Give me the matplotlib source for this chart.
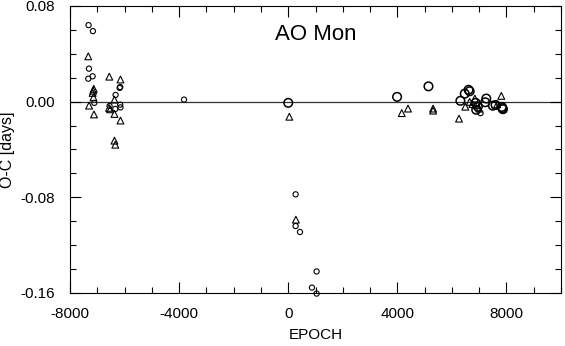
import matplotlib.pyplot as plt
from matplotlib.ticker import MultipleLocator

# small circles
epoch_circ_small = [-7320, -7160, -7305, -7330, -7170, -6160, -6180, -7110, -6330,
                    -6550, -6340, -6160, -6150, -3820, 270, 270, 430, 1040, 870, 1040, 7050]
oc_circ_small = [0.064, 0.059, 0.0276, 0.0192, 0.0212, 0.0122, 0.0115, -0.001, 0.0056,
                 -0.0036, -0.0061, -0.0025, -0.0048, 0.0017, -0.0775, -0.104, -0.109,
                 -0.142, -0.1555, -0.1605, -0.0096]

# large circles
epoch_circ_big = [0, 3990, 5140, 6310, 6470, 6610, 6650, 6870, 6950, 6890, 7260, 7220,
                  7500, 7600, 7850, 7870, 7830]
oc_circ_big = [-0.001, 0.004, 0.0128, 0.0007, 0.0067, 0.0099, 0.0087, -0.001, -0.0042,
               -0.0068, 0.0026, -0.0005, -0.0034, -0.0028, -0.0055, -0.0063, -0.0044]

# triangles
epoch_tri = [-7330, -6560, -6150, -7130, -7150, -7170, -7140, -7300, -7120, -6370,
             -6570, -6530, -6370, -6150, -6370, -6340, 40, 280, 4390, 4160, 5310, 5310,
             6260, 6490, 6650, 6840, 6750, 6930, 7810, 7660, 7000]
oc_tri = [0.0379, 0.0209, 0.0185, 0.0107, 0.0092, 0.0073, 0.0036, -0.0033, -0.0107, 0.0017,
          -0.0052, -0.0064, -0.0103, -0.0158, -0.0326, -0.036, -0.0126, -0.0987, -0.0058,
          -0.0096, -0.0058, -0.0075, -0.0142, -0.0042, -0.0002, 0.0026, -0.002, -0.003,
          0.0048, -0.0022, -0.0058]

plt.rcParams['font.family'] = ['Liberation Sans', 'DejaVu Sans']

fig = plt.figure(figsize=(5.65, 3.46), dpi=100)
ax = fig.add_axes([0.1239, 0.1532, 0.993 - 0.1239, 0.9827 - 0.1532])

ax.axhline(0, color='#333333', lw=0.9, zorder=1)

ax.scatter(epoch_circ_small, oc_circ_small, s=14, marker='o', facecolors='none',
           edgecolors='black', linewidths=0.8, clip_on=False, zorder=3)
ax.scatter(epoch_circ_big, oc_circ_big, s=38, marker='o', facecolors='none',
           edgecolors='black', linewidths=1.1, zorder=3)
ax.scatter(epoch_tri, oc_tri, s=24, marker='^', facecolors='none',
           edgecolors='black', linewidths=0.8, zorder=3)

ax.set_xlim(-8000, 10000)
ax.set_ylim(-0.16, 0.08)
ax.xaxis.set_major_locator(MultipleLocator(4000))
ax.xaxis.set_minor_locator(MultipleLocator(1000))
ax.yaxis.set_major_locator(MultipleLocator(0.08))
ax.yaxis.set_minor_locator(MultipleLocator(0.02))
ax.xaxis.set_major_formatter(plt.FuncFormatter(lambda v, p: f"{v:.0f}"))
ax.yaxis.set_major_formatter(plt.FuncFormatter(lambda v, p: f"{v:.2f}"))

ax.tick_params(which='both', direction='in', top=True, right=True, labelsize=11,
               width=0.8, color='black')
ax.tick_params(which='major', length=8)
ax.tick_params(which='minor', length=4)
ax.tick_params(axis='x', pad=10)
ax.tick_params(axis='y', pad=11)

for s in ax.spines.values():
    s.set_linewidth(0.8)

ax.set_xlabel('EPOCH', fontsize=11, labelpad=5)
ax.set_ylabel('O-C [days]', fontsize=11.5, labelpad=4)
ax.text(0.5, 0.90, 'AO Mon', transform=ax.transAxes, ha='center', va='center',
        fontsize=16)

fig.savefig('out.png', dpi=100)
